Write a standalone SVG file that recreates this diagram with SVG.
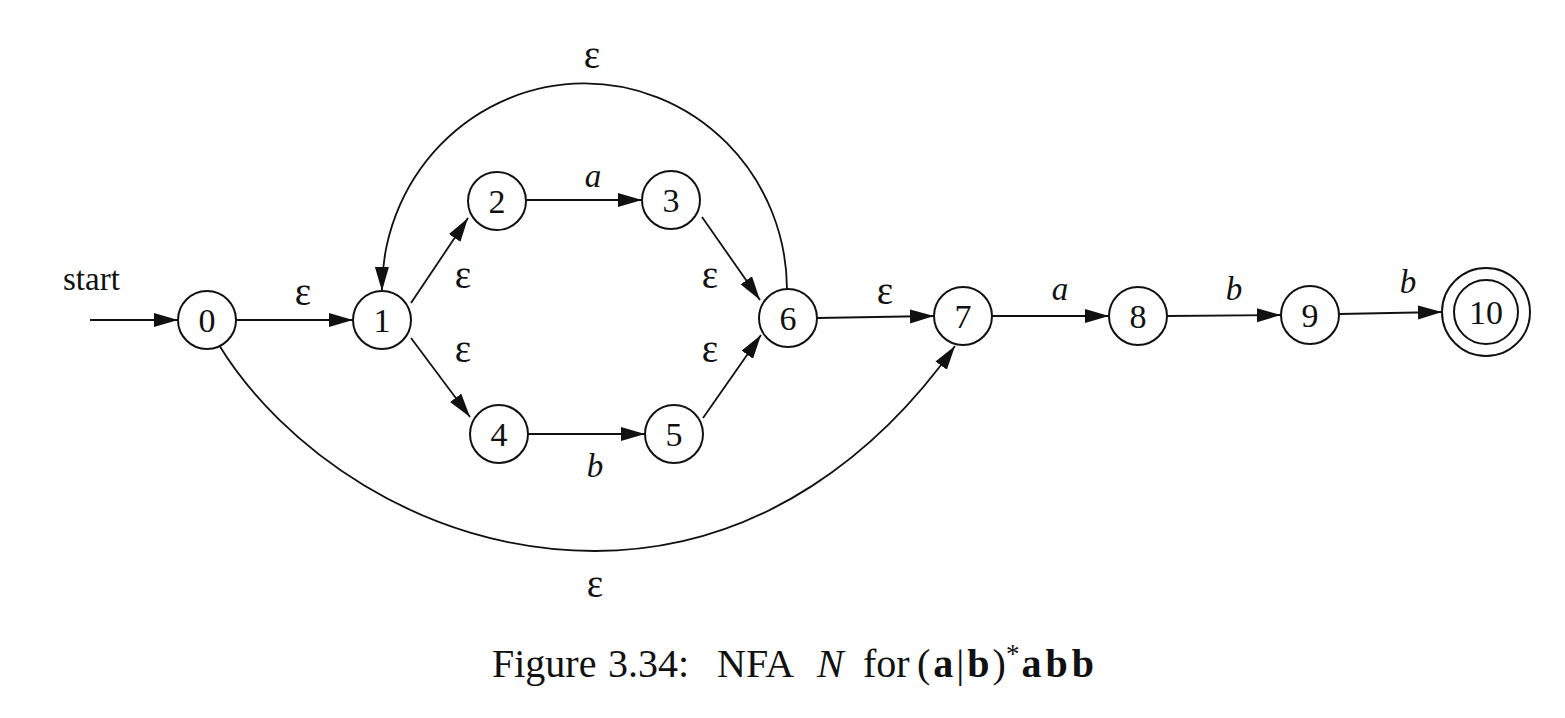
<svg xmlns="http://www.w3.org/2000/svg" width="1565" height="718" viewBox="0 0 1565 718">
<style>
  .node circle { fill: #fff; stroke: #111; stroke-width: 2; }
  .node text { font-family: "Liberation Serif", serif; font-size: 34px; text-anchor: middle; fill: #111; }
  .edges path, .edges line { fill: none; stroke: #111; stroke-width: 1.8; marker-end: url(#arr); }
  .lbl { font-family: "Liberation Serif", serif; font-size: 33px; text-anchor: middle; fill: #111; }
  .eps { font-size: 39px; }
  .it { font-style: italic; }
  .cap { font-family: "Liberation Serif", serif; font-size: 40px; fill: #111; }
  .bd { font-weight: bold; }
</style>
<defs>
  <marker id="arr" markerUnits="userSpaceOnUse" markerWidth="26" markerHeight="15" refX="24" refY="7" orient="auto">
    <path d="M0,0 L24,7 L0,14 z" fill="#111"/>
  </marker>
</defs>
<rect width="1565" height="718" fill="#fff"/>

<g class="edges" id="connectors">
  <line x1="90" y1="320" x2="178" y2="320"/>
  <line x1="236" y1="320" x2="353" y2="320"/>
  <line x1="411" y1="303" x2="468" y2="218"/>
  <line x1="411" y1="338" x2="470" y2="417"/>
  <line x1="527" y1="200" x2="642" y2="200"/>
  <line x1="528" y1="434" x2="645" y2="434"/>
  <line x1="702" y1="217" x2="760" y2="300"/>
  <line x1="703" y1="418" x2="761" y2="335"/>
  <line x1="817" y1="318" x2="934" y2="316"/>
  <line x1="992" y1="316" x2="1109" y2="316"/>
  <line x1="1167" y1="316" x2="1281" y2="315"/>
  <line x1="1339" y1="314" x2="1442" y2="312"/>
  <path d="M 787 289 A 200 204 0 0 0 382 291"/>
  <path d="M 219 345 C 280 445, 420 551, 595 551 C 765 551, 885 445, 955 346"/>
</g>

<g id="labels">
  <text x="63" y="290" class="lbl" style="text-anchor:start">start</text>
  <text x="303" y="305" class="lbl eps">ε</text>
  <text x="463" y="288" class="lbl eps">ε</text>
  <text x="463" y="362" class="lbl eps">ε</text>
  <text x="593" y="187" class="lbl it">a</text>
  <text x="595" y="477" class="lbl it">b</text>
  <text x="710" y="288" class="lbl eps">ε</text>
  <text x="710" y="362" class="lbl eps">ε</text>
  <text x="592" y="68" class="lbl eps">ε</text>
  <text x="595" y="597" class="lbl eps">ε</text>
  <text x="885" y="304" class="lbl eps">ε</text>
  <text x="1060" y="300" class="lbl it">a</text>
  <text x="1234" y="300" class="lbl it">b</text>
  <text x="1408" y="293" class="lbl it">b</text>
</g>

<g class="node" id="n0"><circle cx="207" cy="320" r="29"/><text x="207" y="332">0</text></g>
<g class="node" id="n1"><circle cx="382" cy="320" r="29"/><text x="382" y="332">1</text></g>
<g class="node" id="n2"><circle cx="497" cy="201" r="29"/><text x="497" y="213">2</text></g>
<g class="node" id="n3"><circle cx="671" cy="200" r="29"/><text x="671" y="212">3</text></g>
<g class="node" id="n4"><circle cx="499" cy="434" r="29"/><text x="499" y="446">4</text></g>
<g class="node" id="n5"><circle cx="674" cy="434" r="29"/><text x="674" y="446">5</text></g>
<g class="node" id="n6"><circle cx="788" cy="318" r="29"/><text x="788" y="330">6</text></g>
<g class="node" id="n7"><circle cx="963" cy="316" r="29"/><text x="963" y="328">7</text></g>
<g class="node" id="n8"><circle cx="1138" cy="316" r="29"/><text x="1138" y="328">8</text></g>
<g class="node" id="n9"><circle cx="1310" cy="315" r="29"/><text x="1310" y="327">9</text></g>
<g class="node" id="n10"><circle cx="1486" cy="312" r="44"/><circle cx="1486" cy="312" r="32"/><text x="1486" y="324">10</text></g>

<g id="caption">
  <text class="cap" y="677"><tspan x="492">Figure</tspan><tspan x="608">3.34:</tspan><tspan x="717">NFA</tspan><tspan x="817" class="it">N</tspan><tspan x="863">for</tspan><tspan x="917" letter-spacing="3">(</tspan><tspan class="bd" letter-spacing="3">a</tspan><tspan letter-spacing="3">|</tspan><tspan class="bd" letter-spacing="3">b</tspan><tspan>)</tspan><tspan dy="-14" font-size="27" letter-spacing="2">*</tspan><tspan dy="14" class="bd" letter-spacing="4">abb</tspan></text>
</g>
</svg>
